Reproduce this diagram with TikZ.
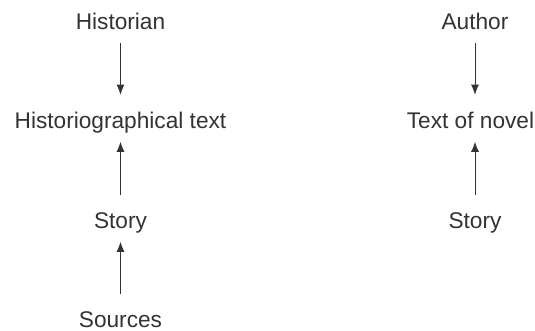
\documentclass[tikz,border=0pt]{standalone}
\usepackage{fontspec}
\setmainfont{Liberation Sans}
\usetikzlibrary{arrows.meta}
\definecolor{ink}{HTML}{333333}
\begin{document}
\begin{tikzpicture}[>={Latex[length=2mm,width=1.6mm]},
    term/.style={anchor=base,inner sep=0pt,text height=0.32cm,text depth=0pt,text=ink,font=\fontsize{12.9}{15}\selectfont},
    link/.style={ink,line width=0.45pt,shorten <=0.25cm,shorten >=0.36cm}]
    \useasboundingbox (0,0) rectangle (10.7,6.62);
    \path (2.41,6.02) node[term](historian){Historian} (2.41,4.04) node[term](histtext){Historiographical text}
      (2.41,2.04) node[term](story1){Story} (2.41,0.06) node[term](sources){Sources};
    \path (9.5,6.02) node[term](author){Author} (9.41,4.04) node[term](noveltext){Text of novel}
      (9.5,2.04) node[term](story2){Story};
    \draw[link,->] (historian) -- (histtext);
    \draw[link,<-] (histtext) -- (story1);
    \draw[link,<-] (story1) -- (sources);
    \draw[link,->] (author) -- (author |- noveltext.north);
    \draw[link,<-] (story2 |- noveltext.south) -- (story2);
  \end{tikzpicture}
\end{document}
